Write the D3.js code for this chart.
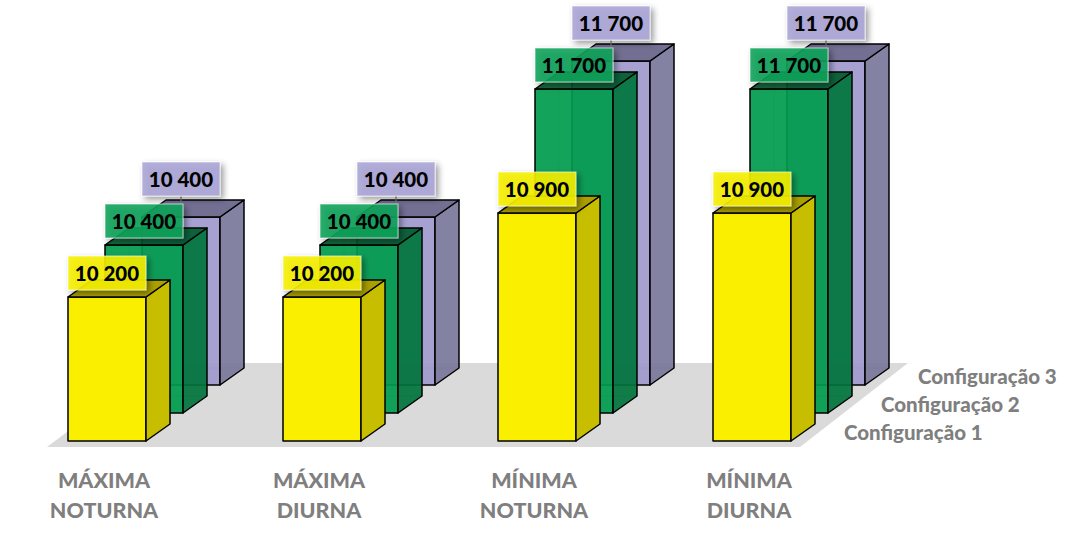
<!DOCTYPE html>
<html>
<head>
<meta charset="utf-8">
<script src="https://cdn.jsdelivr.net/npm/d3@7"></script>
<style>
  html, body { margin: 0; padding: 0; background: #ffffff; }
  svg { display: block; }
</style>
</head>
<body>
<svg id="chart" width="1088" height="558"></svg>
<script>
// ---- data ----
const categories = ["MÁXIMA NOTURNA", "MÁXIMA DIURNA", "MÍNIMA NOTURNA", "MÍNIMA DIURNA"];
const categoryLines = [["MÁXIMA", "NOTURNA"], ["MÁXIMA", "DIURNA"], ["MÍNIMA", "NOTURNA"], ["MÍNIMA", "DIURNA"]];
const seriesNames = ["Configuração 1", "Configuração 2", "Configuração 3"];
const config1 = [10200, 10200, 10900, 10900];
const config2 = [10400, 10400, 11700, 11700];
const config3 = [10400, 10400, 11700, 11700];
const seriesValues = [config1, config2, config3];

// ---- styles ----
const colors = [
  { front: "#fbef00", side: "#c8be00", top: "#aaa000", label: "#f7f000", opacity: 1 },
  { front: "#009b4c", side: "#00743c", top: "#005c2e", label: "#12a35a", opacity: 0.92 },
  { front: "#a099cd", side: "#7a779a", top: "#66638a", label: "#aaa5d6", opacity: 0.92 }
];

const svg = d3.select("#chart");
const fmt = d3.formatLocale({ decimal: ",", thousands: " ", grouping: [3], currency: ["", ""] }).format(",");
const FONT = "Lato, 'Open Sans', sans-serif";

// layout
const barW = 78, depthX = 24, depthY = -17;  // bar width & depth
const stepX = 37, stepY = -28;               // series offset (depth rows)
const base0 = 441;

const x = d3.scaleBand().domain(categories).range([68, 68 + 215 * 4]).padding(0);
const h = d3.scaleLinear().domain([9000, 12000]).range([0, 360]);

const defs = svg.append("defs");
const f = defs.append("filter").attr("id", "shadow").attr("x", "-30%").attr("y", "-30%").attr("width", "160%").attr("height", "170%");
f.append("feDropShadow").attr("dx", 3).attr("dy", 3).attr("stdDeviation", 3).attr("flood-color", "#000").attr("flood-opacity", 0.45);

// floor
const floorG = svg.append("g");
const fl = [[47, 447], [800, 447], [908, 363], [159, 363]];
floorG.append("polygon").attr("points", fl.map(p => p.join(",")).join(" ")).attr("fill", "#dbdada");

const line = d3.line();

// bars: back to front
const barsG = svg.append("g");
for (let k = seriesNames.length - 1; k >= 0; k--) {
  const c = colors[k];
  categories.forEach((cat, i) => {
    const v = seriesValues[k][i];
    const x0 = x(cat) + stepX * k;
    const base = base0 + stepY * k;
    const top = base - h(v);
    const g = barsG.append("g").attr("fill-opacity", c.opacity);
    if (c.opacity < 1) {
      g.append("path").attr("d", line([[x0 + depthX, top + depthY], [x0 + depthX, base + depthY], [x0 + barW + depthX, base + depthY]]))
        .attr("fill", "none").attr("stroke", "#000").attr("stroke-opacity", 0.25).attr("stroke-width", 1);
      g.append("path").attr("d", line([[x0, base], [x0 + depthX, base + depthY]]))
        .attr("fill", "none").attr("stroke", "#000").attr("stroke-opacity", 0.25).attr("stroke-width", 1);
    }
    const faces = [
      { pts: [[x0, top], [x0 + barW, top], [x0 + barW, base], [x0, base]], fill: c.front },
      { pts: [[x0 + barW, top], [x0 + barW + depthX, top + depthY], [x0 + barW + depthX, base + depthY], [x0 + barW, base]], fill: c.side },
      { pts: [[x0, top], [x0 + depthX, top + depthY], [x0 + barW + depthX, top + depthY], [x0 + barW, top]], fill: c.top }
    ];
    faces.forEach(fc => {
      g.append("polygon").attr("points", fc.pts.map(p => p.join(",")).join(" "))
        .attr("fill", fc.fill).attr("stroke", "#000").attr("stroke-width", 1.5).attr("stroke-linejoin", "round");
    });
  });
}

// value labels
const labG = svg.append("g");
for (let k = seriesNames.length - 1; k >= 0; k--) {
  const c = colors[k];
  categories.forEach((cat, i) => {
    const v = seriesValues[k][i];
    const x0 = x(cat) + stepX * k;
    const base = base0 + stepY * k;
    const top = base - h(v);
    const gap = k === 2 ? 21 : 7;
    const bh = 34;
    const by = top - gap - bh;
    if (k === 2) {
      labG.append("line").attr("x1", x0 + barW / 2).attr("x2", x0 + barW / 2).attr("y1", by + bh).attr("y2", top)
        .attr("stroke", "#7f7f7f").attr("stroke-width", 1.2);
    }
    labG.append("rect").attr("x", x0).attr("y", by).attr("width", barW).attr("height", bh)
      .attr("fill", c.label).attr("fill-opacity", 0.88).attr("stroke", "#ffffff").attr("stroke-opacity", 0.6)
      .attr("filter", "url(#shadow)");
    labG.append("text").attr("x", x0 + barW / 2).attr("y", by + bh / 2 + 7.5)
      .attr("text-anchor", "middle").attr("font-family", FONT).attr("font-weight", 900)
      .attr("font-size", 20.5).attr("fill", "#000").text(fmt(v));
  });
}

// category labels
const catG = svg.append("g");
categories.forEach((cat, i) => {
  const cx = x(cat) + barW / 2 - 3;
  categoryLines[i].forEach((t, j) => {
    catG.append("text").attr("x", cx).attr("y", 488 + j * 30).attr("text-anchor", "middle")
      .attr("font-family", FONT).attr("font-weight", 900).attr("font-size", 21.5)
      .attr("fill", "#7f7f7f").text(t);
  });
});

// series (depth axis) labels
const serG = svg.append("g");
seriesNames.forEach((s, k) => {
  serG.append("text").attr("x", 844 + stepX * k).attr("y", 440 + stepY * k)
    .attr("font-family", FONT).attr("font-weight", 900).attr("font-size", 20.5)
    .attr("fill", "#7f7f7f").text(s);
});
</script>
</body>
</html>
